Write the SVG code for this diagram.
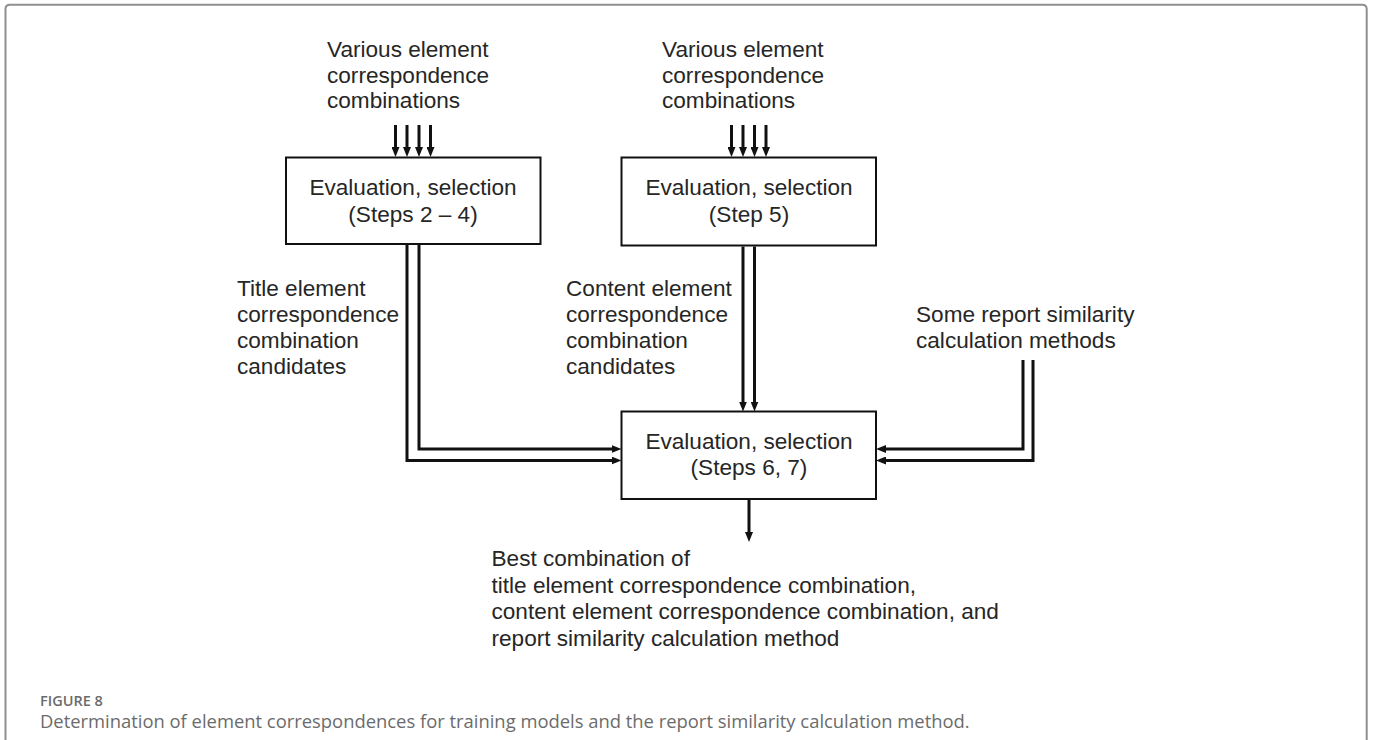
<svg xmlns="http://www.w3.org/2000/svg" width="1373" height="740" viewBox="0 0 1373 740">
  <style>
    .t { font-family: "Liberation Sans", Arial, sans-serif; font-size: 22.6px; fill: #262626; }
    .m { text-anchor: middle; }
    .box { fill: #fff; stroke: #111; stroke-width: 2; }
    .ln { fill: none; stroke: #111; stroke-width: 3; stroke-linejoin: miter; marker-end: url(#ah); }
    .cap { font-family: "Open Sans", "Liberation Sans", sans-serif; fill: #6b6b6b; }
  </style>
  <defs>
    <marker id="ah" viewBox="0 0 10 8" refX="2" refY="4" markerWidth="10" markerHeight="8" markerUnits="userSpaceOnUse" orient="auto">
      <path d="M0,0 L10,4 L0,8 z" fill="#111"/>
    </marker>
  </defs>
  <rect width="1373" height="740" fill="#fff"/>
  <path d="M5.5,745 V9 Q5.5,4.7 10,4.7 H1362 Q1366.7,4.7 1366.7,9 V745" fill="none" stroke="#8f8f8f" stroke-width="2"/>

  <g id="label-top-1">
    <text class="t" x="327" y="57">Various element</text>
    <text class="t" x="327" y="82.5">correspondence</text>
    <text class="t" x="327" y="108">combinations</text>
  </g>
  <g id="label-top-2">
    <text class="t" x="662" y="57">Various element</text>
    <text class="t" x="662" y="82.5">correspondence</text>
    <text class="t" x="662" y="108">combinations</text>
  </g>

  <g id="box1">
    <rect class="box" x="286" y="157.5" width="254.5" height="86.5"/>
    <text class="t m" x="413" y="195">Evaluation, selection</text>
    <text class="t m" x="413" y="221.5">(Steps 2 – 4)</text>
  </g>
  <g id="box2">
    <rect class="box" x="621.5" y="157.5" width="254.5" height="88"/>
    <text class="t m" x="749" y="195">Evaluation, selection</text>
    <text class="t m" x="749" y="221.5">(Step 5)</text>
  </g>
  <g id="box3">
    <rect class="box" x="621.5" y="411.5" width="254.5" height="87.5"/>
    <text class="t m" x="749" y="449">Evaluation, selection</text>
    <text class="t m" x="749" y="475">(Steps 6, 7)</text>
  </g>

  <g id="label-title">
    <text class="t" x="237" y="295.5">Title element</text>
    <text class="t" x="237" y="321.5">correspondence</text>
    <text class="t" x="237" y="347.5">combination</text>
    <text class="t" x="237" y="373.5">candidates</text>
  </g>
  <g id="label-content">
    <text class="t" x="566" y="295.5">Content element</text>
    <text class="t" x="566" y="321.5">correspondence</text>
    <text class="t" x="566" y="347.5">combination</text>
    <text class="t" x="566" y="373.5">candidates</text>
  </g>
  <g id="label-methods">
    <text class="t" x="916" y="321.5">Some report similarity</text>
    <text class="t" x="916" y="347.5">calculation methods</text>
  </g>
  <g id="label-result">
    <text class="t" x="491.5" y="566">Best combination of</text>
    <text class="t" x="491.5" y="592.5">title element correspondence combination,</text>
    <text class="t" x="491.5" y="619">content element correspondence combination, and</text>
    <text class="t" x="491.5" y="645.5">report similarity calculation method</text>
  </g>

  <g id="connectors">
    <path class="ln" d="M395.5,125 V149"/>
    <path class="ln" d="M407,125 V149"/>
    <path class="ln" d="M419,125 V149"/>
    <path class="ln" d="M430.5,125 V149"/>
    <path class="ln" d="M731.5,125 V149"/>
    <path class="ln" d="M743,125 V149"/>
    <path class="ln" d="M754.5,125 V149"/>
    <path class="ln" d="M766,125 V149"/>
    <path class="ln" d="M407,245 V460.5 H613.5"/>
    <path class="ln" d="M419,245 V449 H613.5"/>
    <path class="ln" d="M743,246.5 V403.5"/>
    <path class="ln" d="M754.5,246.5 V403.5"/>
    <path class="ln" d="M1023,360 V449 H884"/>
    <path class="ln" d="M1033,360 V460.5 H884"/>
    <path class="ln" d="M749,500 V534"/>
  </g>

  <g id="caption">
    <text class="cap" x="40" y="706" font-size="14.5" font-weight="600" fill="#555">FIGURE 8</text>
    <text class="cap" x="40" y="728" font-size="18.4">Determination of element correspondences for training models and the report similarity calculation method.</text>
  </g>
</svg>
